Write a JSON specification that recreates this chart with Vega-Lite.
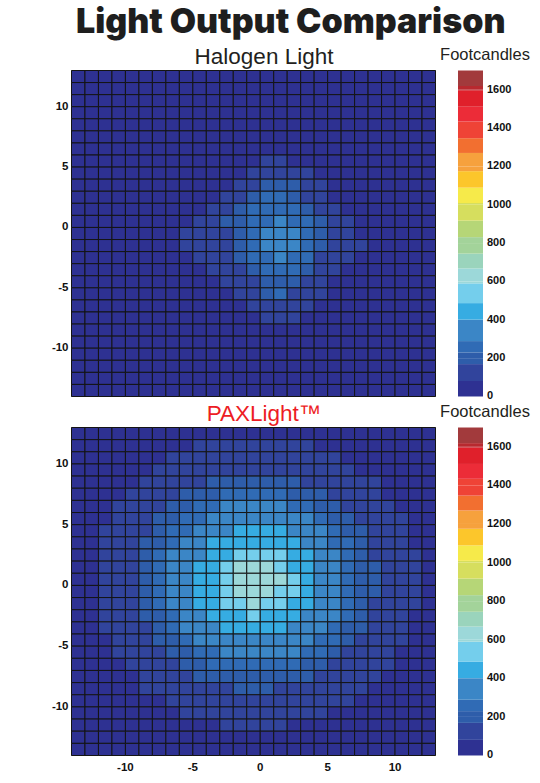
{
"$schema":"https://vega.github.io/schema/vega-lite/v6.json",
"background":"white",
"padding":{"left":50,"top":6,"right":0,"bottom":0},
"title":{"text":"Light Output Comparison","font":"Inter","fontWeight":900,"fontSize":34,"color":"#1E1E1E","anchor":"middle","offset":5},
"spacing":31,
"bounds":"flush",
"resolve":{"scale":{"color":"independent"}},
"config":{"view":{"stroke":"#888","strokeWidth":1}},
"datasets":{
"halogen":[
{"x":-14,"y":12,"v":35},{"x":-13,"y":12,"v":35},{"x":-12,"y":12,"v":35},{"x":-11,"y":12,"v":35},{"x":-10,"y":12,"v":35},{"x":-9,"y":12,"v":35},{"x":-8,"y":12,"v":35},{"x":-7,"y":12,"v":35},{"x":-6,"y":12,"v":35},{"x":-5,"y":12,"v":35},{"x":-4,"y":12,"v":35},{"x":-3,"y":12,"v":35},{"x":-2,"y":12,"v":35},{"x":-1,"y":12,"v":35},{"x":0,"y":12,"v":35},{"x":1,"y":12,"v":35},{"x":2,"y":12,"v":35},{"x":3,"y":12,"v":35},{"x":4,"y":12,"v":35},{"x":5,"y":12,"v":35},{"x":6,"y":12,"v":35},{"x":7,"y":12,"v":35},{"x":8,"y":12,"v":35},{"x":9,"y":12,"v":35},{"x":10,"y":12,"v":35},{"x":11,"y":12,"v":35},{"x":12,"y":12,"v":35},
{"x":-14,"y":11,"v":35},{"x":-13,"y":11,"v":35},{"x":-12,"y":11,"v":35},{"x":-11,"y":11,"v":35},{"x":-10,"y":11,"v":35},{"x":-9,"y":11,"v":35},{"x":-8,"y":11,"v":35},{"x":-7,"y":11,"v":35},{"x":-6,"y":11,"v":35},{"x":-5,"y":11,"v":35},{"x":-4,"y":11,"v":35},{"x":-3,"y":11,"v":35},{"x":-2,"y":11,"v":35},{"x":-1,"y":11,"v":35},{"x":0,"y":11,"v":35},{"x":1,"y":11,"v":35},{"x":2,"y":11,"v":35},{"x":3,"y":11,"v":35},{"x":4,"y":11,"v":35},{"x":5,"y":11,"v":35},{"x":6,"y":11,"v":35},{"x":7,"y":11,"v":35},{"x":8,"y":11,"v":35},{"x":9,"y":11,"v":35},{"x":10,"y":11,"v":35},{"x":11,"y":11,"v":35},{"x":12,"y":11,"v":35},
{"x":-14,"y":10,"v":35},{"x":-13,"y":10,"v":35},{"x":-12,"y":10,"v":35},{"x":-11,"y":10,"v":35},{"x":-10,"y":10,"v":35},{"x":-9,"y":10,"v":35},{"x":-8,"y":10,"v":35},{"x":-7,"y":10,"v":35},{"x":-6,"y":10,"v":35},{"x":-5,"y":10,"v":35},{"x":-4,"y":10,"v":35},{"x":-3,"y":10,"v":35},{"x":-2,"y":10,"v":35},{"x":-1,"y":10,"v":35},{"x":0,"y":10,"v":35},{"x":1,"y":10,"v":35},{"x":2,"y":10,"v":35},{"x":3,"y":10,"v":35},{"x":4,"y":10,"v":35},{"x":5,"y":10,"v":35},{"x":6,"y":10,"v":35},{"x":7,"y":10,"v":35},{"x":8,"y":10,"v":35},{"x":9,"y":10,"v":35},{"x":10,"y":10,"v":35},{"x":11,"y":10,"v":35},{"x":12,"y":10,"v":35},
{"x":-14,"y":9,"v":35},{"x":-13,"y":9,"v":35},{"x":-12,"y":9,"v":35},{"x":-11,"y":9,"v":35},{"x":-10,"y":9,"v":35},{"x":-9,"y":9,"v":35},{"x":-8,"y":9,"v":35},{"x":-7,"y":9,"v":35},{"x":-6,"y":9,"v":35},{"x":-5,"y":9,"v":35},{"x":-4,"y":9,"v":35},{"x":-3,"y":9,"v":35},{"x":-2,"y":9,"v":35},{"x":-1,"y":9,"v":35},{"x":0,"y":9,"v":35},{"x":1,"y":9,"v":35},{"x":2,"y":9,"v":35},{"x":3,"y":9,"v":35},{"x":4,"y":9,"v":35},{"x":5,"y":9,"v":35},{"x":6,"y":9,"v":35},{"x":7,"y":9,"v":35},{"x":8,"y":9,"v":35},{"x":9,"y":9,"v":35},{"x":10,"y":9,"v":35},{"x":11,"y":9,"v":35},{"x":12,"y":9,"v":35},
{"x":-14,"y":8,"v":35},{"x":-13,"y":8,"v":35},{"x":-12,"y":8,"v":35},{"x":-11,"y":8,"v":35},{"x":-10,"y":8,"v":35},{"x":-9,"y":8,"v":35},{"x":-8,"y":8,"v":50},{"x":-7,"y":8,"v":50},{"x":-6,"y":8,"v":50},{"x":-5,"y":8,"v":50},{"x":-4,"y":8,"v":50},{"x":-3,"y":8,"v":50},{"x":-2,"y":8,"v":50},{"x":-1,"y":8,"v":50},{"x":0,"y":8,"v":50},{"x":1,"y":8,"v":50},{"x":2,"y":8,"v":50},{"x":3,"y":8,"v":50},{"x":4,"y":8,"v":50},{"x":5,"y":8,"v":50},{"x":6,"y":8,"v":50},{"x":7,"y":8,"v":50},{"x":8,"y":8,"v":50},{"x":9,"y":8,"v":35},{"x":10,"y":8,"v":35},{"x":11,"y":8,"v":35},{"x":12,"y":8,"v":35},
{"x":-14,"y":7,"v":35},{"x":-13,"y":7,"v":35},{"x":-12,"y":7,"v":35},{"x":-11,"y":7,"v":35},{"x":-10,"y":7,"v":35},{"x":-9,"y":7,"v":35},{"x":-8,"y":7,"v":50},{"x":-7,"y":7,"v":50},{"x":-6,"y":7,"v":50},{"x":-5,"y":7,"v":50},{"x":-4,"y":7,"v":50},{"x":-3,"y":7,"v":50},{"x":-2,"y":7,"v":50},{"x":-1,"y":7,"v":50},{"x":0,"y":7,"v":50},{"x":1,"y":7,"v":50},{"x":2,"y":7,"v":50},{"x":3,"y":7,"v":50},{"x":4,"y":7,"v":50},{"x":5,"y":7,"v":50},{"x":6,"y":7,"v":50},{"x":7,"y":7,"v":50},{"x":8,"y":7,"v":50},{"x":9,"y":7,"v":35},{"x":10,"y":7,"v":35},{"x":11,"y":7,"v":35},{"x":12,"y":7,"v":35},
{"x":-14,"y":6,"v":35},{"x":-13,"y":6,"v":35},{"x":-12,"y":6,"v":35},{"x":-11,"y":6,"v":35},{"x":-10,"y":6,"v":35},{"x":-9,"y":6,"v":35},{"x":-8,"y":6,"v":50},{"x":-7,"y":6,"v":50},{"x":-6,"y":6,"v":50},{"x":-5,"y":6,"v":50},{"x":-4,"y":6,"v":50},{"x":-3,"y":6,"v":50},{"x":-2,"y":6,"v":50},{"x":-1,"y":6,"v":50},{"x":0,"y":6,"v":50},{"x":1,"y":6,"v":50},{"x":2,"y":6,"v":50},{"x":3,"y":6,"v":50},{"x":4,"y":6,"v":50},{"x":5,"y":6,"v":50},{"x":6,"y":6,"v":50},{"x":7,"y":6,"v":50},{"x":8,"y":6,"v":50},{"x":9,"y":6,"v":35},{"x":10,"y":6,"v":35},{"x":11,"y":6,"v":35},{"x":12,"y":6,"v":35},
{"x":-14,"y":5,"v":35},{"x":-13,"y":5,"v":35},{"x":-12,"y":5,"v":35},{"x":-11,"y":5,"v":35},{"x":-10,"y":5,"v":35},{"x":-9,"y":5,"v":35},{"x":-8,"y":5,"v":50},{"x":-7,"y":5,"v":50},{"x":-6,"y":5,"v":50},{"x":-5,"y":5,"v":50},{"x":-4,"y":5,"v":50},{"x":-3,"y":5,"v":50},{"x":-2,"y":5,"v":50},{"x":-1,"y":5,"v":50},{"x":0,"y":5,"v":100},{"x":1,"y":5,"v":100},{"x":2,"y":5,"v":50},{"x":3,"y":5,"v":50},{"x":4,"y":5,"v":50},{"x":5,"y":5,"v":50},{"x":6,"y":5,"v":50},{"x":7,"y":5,"v":50},{"x":8,"y":5,"v":50},{"x":9,"y":5,"v":35},{"x":10,"y":5,"v":35},{"x":11,"y":5,"v":35},{"x":12,"y":5,"v":35},
{"x":-14,"y":4,"v":35},{"x":-13,"y":4,"v":35},{"x":-12,"y":4,"v":35},{"x":-11,"y":4,"v":35},{"x":-10,"y":4,"v":35},{"x":-9,"y":4,"v":35},{"x":-8,"y":4,"v":50},{"x":-7,"y":4,"v":50},{"x":-6,"y":4,"v":50},{"x":-5,"y":4,"v":50},{"x":-4,"y":4,"v":50},{"x":-3,"y":4,"v":50},{"x":-2,"y":4,"v":50},{"x":-1,"y":4,"v":95},{"x":0,"y":4,"v":115},{"x":1,"y":4,"v":120},{"x":2,"y":4,"v":110},{"x":3,"y":4,"v":90},{"x":4,"y":4,"v":50},{"x":5,"y":4,"v":50},{"x":6,"y":4,"v":50},{"x":7,"y":4,"v":50},{"x":8,"y":4,"v":50},{"x":9,"y":4,"v":35},{"x":10,"y":4,"v":35},{"x":11,"y":4,"v":35},{"x":12,"y":4,"v":35},
{"x":-14,"y":3,"v":35},{"x":-13,"y":3,"v":35},{"x":-12,"y":3,"v":35},{"x":-11,"y":3,"v":35},{"x":-10,"y":3,"v":35},{"x":-9,"y":3,"v":35},{"x":-8,"y":3,"v":50},{"x":-7,"y":3,"v":50},{"x":-6,"y":3,"v":50},{"x":-5,"y":3,"v":50},{"x":-4,"y":3,"v":50},{"x":-3,"y":3,"v":50},{"x":-2,"y":3,"v":95},{"x":-1,"y":3,"v":140},{"x":0,"y":3,"v":180},{"x":1,"y":3,"v":195},{"x":2,"y":3,"v":180},{"x":3,"y":3,"v":140},{"x":4,"y":3,"v":95},{"x":5,"y":3,"v":50},{"x":6,"y":3,"v":50},{"x":7,"y":3,"v":50},{"x":8,"y":3,"v":50},{"x":9,"y":3,"v":35},{"x":10,"y":3,"v":35},{"x":11,"y":3,"v":35},{"x":12,"y":3,"v":35},
{"x":-14,"y":2,"v":35},{"x":-13,"y":2,"v":35},{"x":-12,"y":2,"v":35},{"x":-11,"y":2,"v":35},{"x":-10,"y":2,"v":35},{"x":-9,"y":2,"v":35},{"x":-8,"y":2,"v":50},{"x":-7,"y":2,"v":50},{"x":-6,"y":2,"v":50},{"x":-5,"y":2,"v":50},{"x":-4,"y":2,"v":50},{"x":-3,"y":2,"v":90},{"x":-2,"y":2,"v":125},{"x":-1,"y":2,"v":200},{"x":0,"y":2,"v":240},{"x":1,"y":2,"v":245},{"x":2,"y":2,"v":205},{"x":3,"y":2,"v":150},{"x":4,"y":2,"v":100},{"x":5,"y":2,"v":50},{"x":6,"y":2,"v":50},{"x":7,"y":2,"v":50},{"x":8,"y":2,"v":50},{"x":9,"y":2,"v":35},{"x":10,"y":2,"v":35},{"x":11,"y":2,"v":35},{"x":12,"y":2,"v":35},
{"x":-14,"y":1,"v":35},{"x":-13,"y":1,"v":35},{"x":-12,"y":1,"v":35},{"x":-11,"y":1,"v":35},{"x":-10,"y":1,"v":35},{"x":-9,"y":1,"v":35},{"x":-8,"y":1,"v":50},{"x":-7,"y":1,"v":50},{"x":-6,"y":1,"v":50},{"x":-5,"y":1,"v":50},{"x":-4,"y":1,"v":90},{"x":-3,"y":1,"v":130},{"x":-2,"y":1,"v":180},{"x":-1,"y":1,"v":240},{"x":0,"y":1,"v":255},{"x":1,"y":1,"v":260},{"x":2,"y":1,"v":250},{"x":3,"y":1,"v":200},{"x":4,"y":1,"v":140},{"x":5,"y":1,"v":95},{"x":6,"y":1,"v":50},{"x":7,"y":1,"v":50},{"x":8,"y":1,"v":50},{"x":9,"y":1,"v":35},{"x":10,"y":1,"v":35},{"x":11,"y":1,"v":35},{"x":12,"y":1,"v":35},
{"x":-14,"y":0,"v":35},{"x":-13,"y":0,"v":35},{"x":-12,"y":0,"v":35},{"x":-11,"y":0,"v":35},{"x":-10,"y":0,"v":35},{"x":-9,"y":0,"v":35},{"x":-8,"y":0,"v":50},{"x":-7,"y":0,"v":50},{"x":-6,"y":0,"v":50},{"x":-5,"y":0,"v":90},{"x":-4,"y":0,"v":130},{"x":-3,"y":0,"v":175},{"x":-2,"y":0,"v":205},{"x":-1,"y":0,"v":245},{"x":0,"y":0,"v":270},{"x":1,"y":0,"v":330},{"x":2,"y":0,"v":275},{"x":3,"y":0,"v":240},{"x":4,"y":0,"v":185},{"x":5,"y":0,"v":140},{"x":6,"y":0,"v":95},{"x":7,"y":0,"v":50},{"x":8,"y":0,"v":50},{"x":9,"y":0,"v":35},{"x":10,"y":0,"v":35},{"x":11,"y":0,"v":35},{"x":12,"y":0,"v":35},
{"x":-14,"y":-1,"v":35},{"x":-13,"y":-1,"v":35},{"x":-12,"y":-1,"v":35},{"x":-11,"y":-1,"v":35},{"x":-10,"y":-1,"v":35},{"x":-9,"y":-1,"v":35},{"x":-8,"y":-1,"v":50},{"x":-7,"y":-1,"v":50},{"x":-6,"y":-1,"v":85},{"x":-5,"y":-1,"v":105},{"x":-4,"y":-1,"v":130},{"x":-3,"y":-1,"v":155},{"x":-2,"y":-1,"v":200},{"x":-1,"y":-1,"v":260},{"x":0,"y":-1,"v":340},{"x":1,"y":-1,"v":370},{"x":2,"y":-1,"v":300},{"x":3,"y":-1,"v":250},{"x":4,"y":-1,"v":180},{"x":5,"y":-1,"v":140},{"x":6,"y":-1,"v":100},{"x":7,"y":-1,"v":50},{"x":8,"y":-1,"v":50},{"x":9,"y":-1,"v":35},{"x":10,"y":-1,"v":35},{"x":11,"y":-1,"v":35},{"x":12,"y":-1,"v":35},
{"x":-14,"y":-2,"v":35},{"x":-13,"y":-2,"v":35},{"x":-12,"y":-2,"v":35},{"x":-11,"y":-2,"v":35},{"x":-10,"y":-2,"v":35},{"x":-9,"y":-2,"v":35},{"x":-8,"y":-2,"v":50},{"x":-7,"y":-2,"v":50},{"x":-6,"y":-2,"v":90},{"x":-5,"y":-2,"v":110},{"x":-4,"y":-2,"v":135},{"x":-3,"y":-2,"v":160},{"x":-2,"y":-2,"v":205},{"x":-1,"y":-2,"v":275},{"x":0,"y":-2,"v":350},{"x":1,"y":-2,"v":380},{"x":2,"y":-2,"v":340},{"x":3,"y":-2,"v":260},{"x":4,"y":-2,"v":210},{"x":5,"y":-2,"v":150},{"x":6,"y":-2,"v":120},{"x":7,"y":-2,"v":90},{"x":8,"y":-2,"v":50},{"x":9,"y":-2,"v":35},{"x":10,"y":-2,"v":35},{"x":11,"y":-2,"v":35},{"x":12,"y":-2,"v":35},
{"x":-14,"y":-3,"v":35},{"x":-13,"y":-3,"v":35},{"x":-12,"y":-3,"v":35},{"x":-11,"y":-3,"v":35},{"x":-10,"y":-3,"v":35},{"x":-9,"y":-3,"v":35},{"x":-8,"y":-3,"v":50},{"x":-7,"y":-3,"v":50},{"x":-6,"y":-3,"v":50},{"x":-5,"y":-3,"v":95},{"x":-4,"y":-3,"v":120},{"x":-3,"y":-3,"v":150},{"x":-2,"y":-3,"v":185},{"x":-1,"y":-3,"v":250},{"x":0,"y":-3,"v":285},{"x":1,"y":-3,"v":330},{"x":2,"y":-3,"v":285},{"x":3,"y":-3,"v":240},{"x":4,"y":-3,"v":160},{"x":5,"y":-3,"v":130},{"x":6,"y":-3,"v":95},{"x":7,"y":-3,"v":50},{"x":8,"y":-3,"v":50},{"x":9,"y":-3,"v":35},{"x":10,"y":-3,"v":35},{"x":11,"y":-3,"v":35},{"x":12,"y":-3,"v":35},
{"x":-14,"y":-4,"v":35},{"x":-13,"y":-4,"v":35},{"x":-12,"y":-4,"v":35},{"x":-11,"y":-4,"v":35},{"x":-10,"y":-4,"v":35},{"x":-9,"y":-4,"v":35},{"x":-8,"y":-4,"v":50},{"x":-7,"y":-4,"v":50},{"x":-6,"y":-4,"v":50},{"x":-5,"y":-4,"v":50},{"x":-4,"y":-4,"v":95},{"x":-3,"y":-4,"v":120},{"x":-2,"y":-4,"v":150},{"x":-1,"y":-4,"v":190},{"x":0,"y":-4,"v":250},{"x":1,"y":-4,"v":280},{"x":2,"y":-4,"v":245},{"x":3,"y":-4,"v":175},{"x":4,"y":-4,"v":140},{"x":5,"y":-4,"v":100},{"x":6,"y":-4,"v":50},{"x":7,"y":-4,"v":50},{"x":8,"y":-4,"v":50},{"x":9,"y":-4,"v":35},{"x":10,"y":-4,"v":35},{"x":11,"y":-4,"v":35},{"x":12,"y":-4,"v":35},
{"x":-14,"y":-5,"v":35},{"x":-13,"y":-5,"v":35},{"x":-12,"y":-5,"v":35},{"x":-11,"y":-5,"v":35},{"x":-10,"y":-5,"v":35},{"x":-9,"y":-5,"v":35},{"x":-8,"y":-5,"v":50},{"x":-7,"y":-5,"v":50},{"x":-6,"y":-5,"v":50},{"x":-5,"y":-5,"v":50},{"x":-4,"y":-5,"v":50},{"x":-3,"y":-5,"v":100},{"x":-2,"y":-5,"v":125},{"x":-1,"y":-5,"v":155},{"x":0,"y":-5,"v":205},{"x":1,"y":-5,"v":215},{"x":2,"y":-5,"v":185},{"x":3,"y":-5,"v":150},{"x":4,"y":-5,"v":110},{"x":5,"y":-5,"v":50},{"x":6,"y":-5,"v":50},{"x":7,"y":-5,"v":50},{"x":8,"y":-5,"v":50},{"x":9,"y":-5,"v":35},{"x":10,"y":-5,"v":35},{"x":11,"y":-5,"v":35},{"x":12,"y":-5,"v":35},
{"x":-14,"y":-6,"v":35},{"x":-13,"y":-6,"v":35},{"x":-12,"y":-6,"v":35},{"x":-11,"y":-6,"v":35},{"x":-10,"y":-6,"v":35},{"x":-9,"y":-6,"v":35},{"x":-8,"y":-6,"v":50},{"x":-7,"y":-6,"v":50},{"x":-6,"y":-6,"v":50},{"x":-5,"y":-6,"v":50},{"x":-4,"y":-6,"v":50},{"x":-3,"y":-6,"v":50},{"x":-2,"y":-6,"v":105},{"x":-1,"y":-6,"v":150},{"x":0,"y":-6,"v":175},{"x":1,"y":-6,"v":240},{"x":2,"y":-6,"v":150},{"x":3,"y":-6,"v":120},{"x":4,"y":-6,"v":90},{"x":5,"y":-6,"v":50},{"x":6,"y":-6,"v":50},{"x":7,"y":-6,"v":50},{"x":8,"y":-6,"v":50},{"x":9,"y":-6,"v":35},{"x":10,"y":-6,"v":35},{"x":11,"y":-6,"v":35},{"x":12,"y":-6,"v":35},
{"x":-14,"y":-7,"v":35},{"x":-13,"y":-7,"v":35},{"x":-12,"y":-7,"v":35},{"x":-11,"y":-7,"v":35},{"x":-10,"y":-7,"v":35},{"x":-9,"y":-7,"v":35},{"x":-8,"y":-7,"v":50},{"x":-7,"y":-7,"v":50},{"x":-6,"y":-7,"v":50},{"x":-5,"y":-7,"v":50},{"x":-4,"y":-7,"v":50},{"x":-3,"y":-7,"v":50},{"x":-2,"y":-7,"v":50},{"x":-1,"y":-7,"v":110},{"x":0,"y":-7,"v":140},{"x":1,"y":-7,"v":155},{"x":2,"y":-7,"v":140},{"x":3,"y":-7,"v":100},{"x":4,"y":-7,"v":50},{"x":5,"y":-7,"v":50},{"x":6,"y":-7,"v":50},{"x":7,"y":-7,"v":50},{"x":8,"y":-7,"v":50},{"x":9,"y":-7,"v":35},{"x":10,"y":-7,"v":35},{"x":11,"y":-7,"v":35},{"x":12,"y":-7,"v":35},
{"x":-14,"y":-8,"v":35},{"x":-13,"y":-8,"v":35},{"x":-12,"y":-8,"v":35},{"x":-11,"y":-8,"v":35},{"x":-10,"y":-8,"v":35},{"x":-9,"y":-8,"v":35},{"x":-8,"y":-8,"v":50},{"x":-7,"y":-8,"v":50},{"x":-6,"y":-8,"v":50},{"x":-5,"y":-8,"v":50},{"x":-4,"y":-8,"v":50},{"x":-3,"y":-8,"v":50},{"x":-2,"y":-8,"v":50},{"x":-1,"y":-8,"v":50},{"x":0,"y":-8,"v":100},{"x":1,"y":-8,"v":110},{"x":2,"y":-8,"v":95},{"x":3,"y":-8,"v":50},{"x":4,"y":-8,"v":50},{"x":5,"y":-8,"v":50},{"x":6,"y":-8,"v":50},{"x":7,"y":-8,"v":50},{"x":8,"y":-8,"v":50},{"x":9,"y":-8,"v":35},{"x":10,"y":-8,"v":35},{"x":11,"y":-8,"v":35},{"x":12,"y":-8,"v":35},
{"x":-14,"y":-9,"v":35},{"x":-13,"y":-9,"v":35},{"x":-12,"y":-9,"v":35},{"x":-11,"y":-9,"v":35},{"x":-10,"y":-9,"v":35},{"x":-9,"y":-9,"v":35},{"x":-8,"y":-9,"v":50},{"x":-7,"y":-9,"v":50},{"x":-6,"y":-9,"v":50},{"x":-5,"y":-9,"v":50},{"x":-4,"y":-9,"v":50},{"x":-3,"y":-9,"v":50},{"x":-2,"y":-9,"v":50},{"x":-1,"y":-9,"v":50},{"x":0,"y":-9,"v":50},{"x":1,"y":-9,"v":50},{"x":2,"y":-9,"v":50},{"x":3,"y":-9,"v":50},{"x":4,"y":-9,"v":50},{"x":5,"y":-9,"v":50},{"x":6,"y":-9,"v":50},{"x":7,"y":-9,"v":50},{"x":8,"y":-9,"v":50},{"x":9,"y":-9,"v":35},{"x":10,"y":-9,"v":35},{"x":11,"y":-9,"v":35},{"x":12,"y":-9,"v":35},
{"x":-14,"y":-10,"v":35},{"x":-13,"y":-10,"v":35},{"x":-12,"y":-10,"v":35},{"x":-11,"y":-10,"v":35},{"x":-10,"y":-10,"v":35},{"x":-9,"y":-10,"v":35},{"x":-8,"y":-10,"v":50},{"x":-7,"y":-10,"v":50},{"x":-6,"y":-10,"v":50},{"x":-5,"y":-10,"v":50},{"x":-4,"y":-10,"v":50},{"x":-3,"y":-10,"v":50},{"x":-2,"y":-10,"v":50},{"x":-1,"y":-10,"v":50},{"x":0,"y":-10,"v":50},{"x":1,"y":-10,"v":50},{"x":2,"y":-10,"v":50},{"x":3,"y":-10,"v":50},{"x":4,"y":-10,"v":50},{"x":5,"y":-10,"v":50},{"x":6,"y":-10,"v":50},{"x":7,"y":-10,"v":50},{"x":8,"y":-10,"v":50},{"x":9,"y":-10,"v":35},{"x":10,"y":-10,"v":35},{"x":11,"y":-10,"v":35},{"x":12,"y":-10,"v":35},
{"x":-14,"y":-11,"v":35},{"x":-13,"y":-11,"v":35},{"x":-12,"y":-11,"v":35},{"x":-11,"y":-11,"v":35},{"x":-10,"y":-11,"v":35},{"x":-9,"y":-11,"v":35},{"x":-8,"y":-11,"v":35},{"x":-7,"y":-11,"v":35},{"x":-6,"y":-11,"v":35},{"x":-5,"y":-11,"v":35},{"x":-4,"y":-11,"v":35},{"x":-3,"y":-11,"v":35},{"x":-2,"y":-11,"v":35},{"x":-1,"y":-11,"v":35},{"x":0,"y":-11,"v":35},{"x":1,"y":-11,"v":35},{"x":2,"y":-11,"v":35},{"x":3,"y":-11,"v":35},{"x":4,"y":-11,"v":35},{"x":5,"y":-11,"v":35},{"x":6,"y":-11,"v":35},{"x":7,"y":-11,"v":35},{"x":8,"y":-11,"v":35},{"x":9,"y":-11,"v":35},{"x":10,"y":-11,"v":35},{"x":11,"y":-11,"v":35},{"x":12,"y":-11,"v":35},
{"x":-14,"y":-12,"v":35},{"x":-13,"y":-12,"v":35},{"x":-12,"y":-12,"v":35},{"x":-11,"y":-12,"v":35},{"x":-10,"y":-12,"v":35},{"x":-9,"y":-12,"v":35},{"x":-8,"y":-12,"v":35},{"x":-7,"y":-12,"v":35},{"x":-6,"y":-12,"v":35},{"x":-5,"y":-12,"v":35},{"x":-4,"y":-12,"v":35},{"x":-3,"y":-12,"v":35},{"x":-2,"y":-12,"v":35},{"x":-1,"y":-12,"v":35},{"x":0,"y":-12,"v":35},{"x":1,"y":-12,"v":35},{"x":2,"y":-12,"v":35},{"x":3,"y":-12,"v":35},{"x":4,"y":-12,"v":35},{"x":5,"y":-12,"v":35},{"x":6,"y":-12,"v":35},{"x":7,"y":-12,"v":35},{"x":8,"y":-12,"v":35},{"x":9,"y":-12,"v":35},{"x":10,"y":-12,"v":35},{"x":11,"y":-12,"v":35},{"x":12,"y":-12,"v":35},
{"x":-14,"y":-13,"v":35},{"x":-13,"y":-13,"v":35},{"x":-12,"y":-13,"v":35},{"x":-11,"y":-13,"v":35},{"x":-10,"y":-13,"v":35},{"x":-9,"y":-13,"v":35},{"x":-8,"y":-13,"v":35},{"x":-7,"y":-13,"v":35},{"x":-6,"y":-13,"v":35},{"x":-5,"y":-13,"v":35},{"x":-4,"y":-13,"v":35},{"x":-3,"y":-13,"v":35},{"x":-2,"y":-13,"v":35},{"x":-1,"y":-13,"v":35},{"x":0,"y":-13,"v":35},{"x":1,"y":-13,"v":35},{"x":2,"y":-13,"v":35},{"x":3,"y":-13,"v":35},{"x":4,"y":-13,"v":35},{"x":5,"y":-13,"v":35},{"x":6,"y":-13,"v":35},{"x":7,"y":-13,"v":35},{"x":8,"y":-13,"v":35},{"x":9,"y":-13,"v":35},{"x":10,"y":-13,"v":35},{"x":11,"y":-13,"v":35},{"x":12,"y":-13,"v":35},
{"x":-14,"y":-14,"v":35},{"x":-13,"y":-14,"v":35},{"x":-12,"y":-14,"v":35},{"x":-11,"y":-14,"v":35},{"x":-10,"y":-14,"v":35},{"x":-9,"y":-14,"v":35},{"x":-8,"y":-14,"v":35},{"x":-7,"y":-14,"v":35},{"x":-6,"y":-14,"v":35},{"x":-5,"y":-14,"v":35},{"x":-4,"y":-14,"v":35},{"x":-3,"y":-14,"v":35},{"x":-2,"y":-14,"v":35},{"x":-1,"y":-14,"v":35},{"x":0,"y":-14,"v":35},{"x":1,"y":-14,"v":35},{"x":2,"y":-14,"v":35},{"x":3,"y":-14,"v":35},{"x":4,"y":-14,"v":35},{"x":5,"y":-14,"v":35},{"x":6,"y":-14,"v":35},{"x":7,"y":-14,"v":35},{"x":8,"y":-14,"v":35},{"x":9,"y":-14,"v":35},{"x":10,"y":-14,"v":35},{"x":11,"y":-14,"v":35},{"x":12,"y":-14,"v":35}
],
"pax":[
{"x":-14,"y":12,"v":35},{"x":-13,"y":12,"v":39},{"x":-12,"y":12,"v":43},{"x":-11,"y":12,"v":46},{"x":-10,"y":12,"v":50},{"x":-9,"y":12,"v":53},{"x":-8,"y":12,"v":56},{"x":-7,"y":12,"v":61},{"x":-6,"y":12,"v":66},{"x":-5,"y":12,"v":70},{"x":-4,"y":12,"v":74},{"x":-3,"y":12,"v":76},{"x":-2,"y":12,"v":78},{"x":-1,"y":12,"v":79},{"x":0,"y":12,"v":78},{"x":1,"y":12,"v":77},{"x":2,"y":12,"v":75},{"x":3,"y":12,"v":72},{"x":4,"y":12,"v":68},{"x":5,"y":12,"v":63},{"x":6,"y":12,"v":57},{"x":7,"y":12,"v":54},{"x":8,"y":12,"v":51},{"x":9,"y":12,"v":47},{"x":10,"y":12,"v":43},{"x":11,"y":12,"v":40},{"x":12,"y":12,"v":37},
{"x":-14,"y":11,"v":38},{"x":-13,"y":11,"v":43},{"x":-12,"y":11,"v":46},{"x":-11,"y":11,"v":50},{"x":-10,"y":11,"v":54},{"x":-9,"y":11,"v":58},{"x":-8,"y":11,"v":65},{"x":-7,"y":11,"v":71},{"x":-6,"y":11,"v":77},{"x":-5,"y":11,"v":82},{"x":-4,"y":11,"v":91},{"x":-3,"y":11,"v":97},{"x":-2,"y":11,"v":102},{"x":-1,"y":11,"v":103},{"x":0,"y":11,"v":103},{"x":1,"y":11,"v":99},{"x":2,"y":11,"v":94},{"x":3,"y":11,"v":86},{"x":4,"y":11,"v":79},{"x":5,"y":11,"v":74},{"x":6,"y":11,"v":68},{"x":7,"y":11,"v":61},{"x":8,"y":11,"v":56},{"x":9,"y":11,"v":52},{"x":10,"y":11,"v":48},{"x":11,"y":11,"v":44},{"x":12,"y":11,"v":40},
{"x":-14,"y":10,"v":41},{"x":-13,"y":10,"v":46},{"x":-12,"y":10,"v":50},{"x":-11,"y":10,"v":54},{"x":-10,"y":10,"v":60},{"x":-9,"y":10,"v":68},{"x":-8,"y":10,"v":75},{"x":-7,"y":10,"v":83},{"x":-6,"y":10,"v":96},{"x":-5,"y":10,"v":108},{"x":-4,"y":10,"v":118},{"x":-3,"y":10,"v":126},{"x":-2,"y":10,"v":130},{"x":-1,"y":10,"v":132},{"x":0,"y":10,"v":131},{"x":1,"y":10,"v":128},{"x":2,"y":10,"v":122},{"x":3,"y":10,"v":113},{"x":4,"y":10,"v":102},{"x":5,"y":10,"v":89},{"x":6,"y":10,"v":78},{"x":7,"y":10,"v":71},{"x":8,"y":10,"v":63},{"x":9,"y":10,"v":56},{"x":10,"y":10,"v":52},{"x":11,"y":10,"v":48},{"x":12,"y":10,"v":43},
{"x":-14,"y":9,"v":45},{"x":-13,"y":9,"v":50},{"x":-12,"y":9,"v":54},{"x":-11,"y":9,"v":60},{"x":-10,"y":9,"v":69},{"x":-9,"y":9,"v":77},{"x":-8,"y":9,"v":89},{"x":-7,"y":9,"v":107},{"x":-6,"y":9,"v":122},{"x":-5,"y":9,"v":135},{"x":-4,"y":9,"v":145},{"x":-3,"y":9,"v":153},{"x":-2,"y":9,"v":159},{"x":-1,"y":9,"v":160},{"x":0,"y":9,"v":159},{"x":1,"y":9,"v":155},{"x":2,"y":9,"v":148},{"x":3,"y":9,"v":140},{"x":4,"y":9,"v":127},{"x":5,"y":9,"v":113},{"x":6,"y":9,"v":97},{"x":7,"y":9,"v":80},{"x":8,"y":9,"v":72},{"x":9,"y":9,"v":64},{"x":10,"y":9,"v":56},{"x":11,"y":9,"v":51},{"x":12,"y":9,"v":46},
{"x":-14,"y":8,"v":48},{"x":-13,"y":8,"v":53},{"x":-12,"y":8,"v":58},{"x":-11,"y":8,"v":68},{"x":-10,"y":8,"v":77},{"x":-9,"y":8,"v":92},{"x":-8,"y":8,"v":112},{"x":-7,"y":8,"v":130},{"x":-6,"y":8,"v":146},{"x":-5,"y":8,"v":160},{"x":-4,"y":8,"v":174},{"x":-3,"y":8,"v":189},{"x":-2,"y":8,"v":198},{"x":-1,"y":8,"v":202},{"x":0,"y":8,"v":201},{"x":1,"y":8,"v":193},{"x":2,"y":8,"v":180},{"x":3,"y":8,"v":165},{"x":4,"y":8,"v":152},{"x":5,"y":8,"v":137},{"x":6,"y":8,"v":120},{"x":7,"y":8,"v":100},{"x":8,"y":8,"v":81},{"x":9,"y":8,"v":72},{"x":10,"y":8,"v":63},{"x":11,"y":8,"v":55},{"x":12,"y":8,"v":50},
{"x":-14,"y":7,"v":51},{"x":-13,"y":7,"v":56},{"x":-12,"y":7,"v":65},{"x":-11,"y":7,"v":75},{"x":-10,"y":7,"v":89},{"x":-9,"y":7,"v":112},{"x":-8,"y":7,"v":132},{"x":-7,"y":7,"v":152},{"x":-6,"y":7,"v":170},{"x":-5,"y":7,"v":197},{"x":-4,"y":7,"v":217},{"x":-3,"y":7,"v":235},{"x":-2,"y":7,"v":248},{"x":-1,"y":7,"v":254},{"x":0,"y":7,"v":251},{"x":1,"y":7,"v":241},{"x":2,"y":7,"v":224},{"x":3,"y":7,"v":205},{"x":4,"y":7,"v":181},{"x":5,"y":7,"v":159},{"x":6,"y":7,"v":141},{"x":7,"y":7,"v":120},{"x":8,"y":7,"v":99},{"x":9,"y":7,"v":79},{"x":10,"y":7,"v":69},{"x":11,"y":7,"v":59},{"x":12,"y":7,"v":53},
{"x":-14,"y":6,"v":54},{"x":-13,"y":6,"v":61},{"x":-12,"y":6,"v":71},{"x":-11,"y":6,"v":83},{"x":-10,"y":6,"v":107},{"x":-9,"y":6,"v":130},{"x":-8,"y":6,"v":152},{"x":-7,"y":6,"v":176},{"x":-6,"y":6,"v":207},{"x":-5,"y":6,"v":237},{"x":-4,"y":6,"v":267},{"x":-3,"y":6,"v":291},{"x":-2,"y":6,"v":305},{"x":-1,"y":6,"v":311},{"x":0,"y":6,"v":309},{"x":1,"y":6,"v":297},{"x":2,"y":6,"v":277},{"x":3,"y":6,"v":250},{"x":4,"y":6,"v":219},{"x":5,"y":6,"v":189},{"x":6,"y":6,"v":160},{"x":7,"y":6,"v":139},{"x":8,"y":6,"v":116},{"x":9,"y":6,"v":92},{"x":10,"y":6,"v":76},{"x":11,"y":6,"v":65},{"x":12,"y":6,"v":56},
{"x":-14,"y":5,"v":56},{"x":-13,"y":5,"v":66},{"x":-12,"y":5,"v":77},{"x":-11,"y":5,"v":96},{"x":-10,"y":5,"v":122},{"x":-9,"y":5,"v":146},{"x":-8,"y":5,"v":170},{"x":-7,"y":5,"v":207},{"x":-6,"y":5,"v":245},{"x":-5,"y":5,"v":284},{"x":-4,"y":5,"v":317},{"x":-3,"y":5,"v":343},{"x":-2,"y":5,"v":360},{"x":-1,"y":5,"v":367},{"x":0,"y":5,"v":364},{"x":1,"y":5,"v":351},{"x":2,"y":5,"v":329},{"x":3,"y":5,"v":299},{"x":4,"y":5,"v":261},{"x":5,"y":5,"v":222},{"x":6,"y":5,"v":185},{"x":7,"y":5,"v":155},{"x":8,"y":5,"v":132},{"x":9,"y":5,"v":107},{"x":10,"y":5,"v":82},{"x":11,"y":5,"v":70},{"x":12,"y":5,"v":59},
{"x":-14,"y":4,"v":59},{"x":-13,"y":4,"v":70},{"x":-12,"y":4,"v":82},{"x":-11,"y":4,"v":108},{"x":-10,"y":4,"v":135},{"x":-9,"y":4,"v":160},{"x":-8,"y":4,"v":197},{"x":-7,"y":4,"v":237},{"x":-6,"y":4,"v":284},{"x":-5,"y":4,"v":327},{"x":-4,"y":4,"v":363},{"x":-3,"y":4,"v":394},{"x":-2,"y":4,"v":415},{"x":-1,"y":4,"v":423},{"x":0,"y":4,"v":420},{"x":1,"y":4,"v":403},{"x":2,"y":4,"v":376},{"x":3,"y":4,"v":342},{"x":4,"y":4,"v":302},{"x":5,"y":4,"v":256},{"x":6,"y":4,"v":212},{"x":7,"y":4,"v":171},{"x":8,"y":4,"v":145},{"x":9,"y":4,"v":119},{"x":10,"y":4,"v":93},{"x":11,"y":4,"v":75},{"x":12,"y":4,"v":63},
{"x":-14,"y":3,"v":62},{"x":-13,"y":3,"v":74},{"x":-12,"y":3,"v":91},{"x":-11,"y":3,"v":118},{"x":-10,"y":3,"v":145},{"x":-9,"y":3,"v":174},{"x":-8,"y":3,"v":217},{"x":-7,"y":3,"v":267},{"x":-6,"y":3,"v":317},{"x":-5,"y":3,"v":363},{"x":-4,"y":3,"v":405},{"x":-3,"y":3,"v":438},{"x":-2,"y":3,"v":461},{"x":-1,"y":3,"v":472},{"x":0,"y":3,"v":467},{"x":1,"y":3,"v":448},{"x":2,"y":3,"v":419},{"x":3,"y":3,"v":381},{"x":4,"y":3,"v":336},{"x":5,"y":3,"v":288},{"x":6,"y":3,"v":235},{"x":7,"y":3,"v":192},{"x":8,"y":3,"v":156},{"x":9,"y":3,"v":129},{"x":10,"y":3,"v":102},{"x":11,"y":3,"v":78},{"x":12,"y":3,"v":67},
{"x":-14,"y":2,"v":64},{"x":-13,"y":2,"v":76},{"x":-12,"y":2,"v":97},{"x":-11,"y":2,"v":126},{"x":-10,"y":2,"v":154},{"x":-9,"y":2,"v":189},{"x":-8,"y":2,"v":235},{"x":-7,"y":2,"v":291},{"x":-6,"y":2,"v":344},{"x":-5,"y":2,"v":394},{"x":-4,"y":2,"v":438},{"x":-3,"y":2,"v":477},{"x":-2,"y":2,"v":529},{"x":-1,"y":2,"v":559},{"x":0,"y":2,"v":546},{"x":1,"y":2,"v":494},{"x":2,"y":2,"v":454},{"x":3,"y":2,"v":412},{"x":4,"y":2,"v":363},{"x":5,"y":2,"v":311},{"x":6,"y":2,"v":257},{"x":7,"y":2,"v":207},{"x":8,"y":2,"v":164},{"x":9,"y":2,"v":137},{"x":10,"y":2,"v":108},{"x":11,"y":2,"v":81},{"x":12,"y":2,"v":69},
{"x":-14,"y":1,"v":66},{"x":-13,"y":1,"v":78},{"x":-12,"y":1,"v":102},{"x":-11,"y":1,"v":131},{"x":-10,"y":1,"v":159},{"x":-9,"y":1,"v":198},{"x":-8,"y":1,"v":248},{"x":-7,"y":1,"v":305},{"x":-6,"y":1,"v":360},{"x":-5,"y":1,"v":415},{"x":-4,"y":1,"v":461},{"x":-3,"y":1,"v":529},{"x":-2,"y":1,"v":597},{"x":-1,"y":1,"v":611},{"x":0,"y":1,"v":604},{"x":1,"y":1,"v":576},{"x":2,"y":1,"v":480},{"x":3,"y":1,"v":433},{"x":4,"y":1,"v":382},{"x":5,"y":1,"v":327},{"x":6,"y":1,"v":271},{"x":7,"y":1,"v":216},{"x":8,"y":1,"v":170},{"x":9,"y":1,"v":142},{"x":10,"y":1,"v":113},{"x":11,"y":1,"v":85},{"x":12,"y":1,"v":71},
{"x":-14,"y":0,"v":67},{"x":-13,"y":0,"v":79},{"x":-12,"y":0,"v":103},{"x":-11,"y":0,"v":132},{"x":-10,"y":0,"v":160},{"x":-9,"y":0,"v":202},{"x":-8,"y":0,"v":254},{"x":-7,"y":0,"v":311},{"x":-6,"y":0,"v":367},{"x":-5,"y":0,"v":422},{"x":-4,"y":0,"v":472},{"x":-3,"y":0,"v":560},{"x":-2,"y":0,"v":613},{"x":-1,"y":0,"v":641},{"x":0,"y":0,"v":624},{"x":1,"y":0,"v":593},{"x":2,"y":0,"v":498},{"x":3,"y":0,"v":441},{"x":4,"y":0,"v":390},{"x":5,"y":0,"v":334},{"x":6,"y":0,"v":277},{"x":7,"y":0,"v":221},{"x":8,"y":0,"v":174},{"x":9,"y":0,"v":144},{"x":10,"y":0,"v":115},{"x":11,"y":0,"v":87},{"x":12,"y":0,"v":71},
{"x":-14,"y":-1,"v":66},{"x":-13,"y":-1,"v":78},{"x":-12,"y":-1,"v":103},{"x":-11,"y":-1,"v":131},{"x":-10,"y":-1,"v":159},{"x":-9,"y":-1,"v":200},{"x":-8,"y":-1,"v":251},{"x":-7,"y":-1,"v":309},{"x":-6,"y":-1,"v":364},{"x":-5,"y":-1,"v":420},{"x":-4,"y":-1,"v":467},{"x":-3,"y":-1,"v":547},{"x":-2,"y":-1,"v":605},{"x":-1,"y":-1,"v":624},{"x":0,"y":-1,"v":614},{"x":1,"y":-1,"v":585},{"x":2,"y":-1,"v":487},{"x":3,"y":-1,"v":438},{"x":4,"y":-1,"v":388},{"x":5,"y":-1,"v":331},{"x":6,"y":-1,"v":275},{"x":7,"y":-1,"v":219},{"x":8,"y":-1,"v":172},{"x":9,"y":-1,"v":143},{"x":10,"y":-1,"v":114},{"x":11,"y":-1,"v":86},{"x":12,"y":-1,"v":71},
{"x":-14,"y":-2,"v":65},{"x":-13,"y":-2,"v":77},{"x":-12,"y":-2,"v":99},{"x":-11,"y":-2,"v":128},{"x":-10,"y":-2,"v":155},{"x":-9,"y":-2,"v":193},{"x":-8,"y":-2,"v":241},{"x":-7,"y":-2,"v":297},{"x":-6,"y":-2,"v":351},{"x":-5,"y":-2,"v":403},{"x":-4,"y":-2,"v":448},{"x":-3,"y":-2,"v":494},{"x":-2,"y":-2,"v":565},{"x":-1,"y":-2,"v":592},{"x":0,"y":-2,"v":583},{"x":1,"y":-2,"v":525},{"x":2,"y":-2,"v":466},{"x":3,"y":-2,"v":421},{"x":4,"y":-2,"v":372},{"x":5,"y":-2,"v":319},{"x":6,"y":-2,"v":263},{"x":7,"y":-2,"v":211},{"x":8,"y":-2,"v":167},{"x":9,"y":-2,"v":139},{"x":10,"y":-2,"v":110},{"x":11,"y":-2,"v":83},{"x":12,"y":-2,"v":70},
{"x":-14,"y":-3,"v":63},{"x":-13,"y":-3,"v":75},{"x":-12,"y":-3,"v":94},{"x":-11,"y":-3,"v":122},{"x":-10,"y":-3,"v":149},{"x":-9,"y":-3,"v":180},{"x":-8,"y":-3,"v":224},{"x":-7,"y":-3,"v":277},{"x":-6,"y":-3,"v":329},{"x":-5,"y":-3,"v":377},{"x":-4,"y":-3,"v":419},{"x":-3,"y":-3,"v":454},{"x":-2,"y":-3,"v":480},{"x":-1,"y":-3,"v":496},{"x":0,"y":-3,"v":486},{"x":1,"y":-3,"v":466},{"x":2,"y":-3,"v":434},{"x":3,"y":-3,"v":395},{"x":4,"y":-3,"v":348},{"x":5,"y":-3,"v":298},{"x":6,"y":-3,"v":245},{"x":7,"y":-3,"v":198},{"x":8,"y":-3,"v":160},{"x":9,"y":-3,"v":133},{"x":10,"y":-3,"v":105},{"x":11,"y":-3,"v":80},{"x":12,"y":-3,"v":68},
{"x":-14,"y":-4,"v":60},{"x":-13,"y":-4,"v":72},{"x":-12,"y":-4,"v":86},{"x":-11,"y":-4,"v":112},{"x":-10,"y":-4,"v":139},{"x":-9,"y":-4,"v":165},{"x":-8,"y":-4,"v":205},{"x":-7,"y":-4,"v":250},{"x":-6,"y":-4,"v":298},{"x":-5,"y":-4,"v":342},{"x":-4,"y":-4,"v":381},{"x":-3,"y":-4,"v":412},{"x":-2,"y":-4,"v":433},{"x":-1,"y":-4,"v":441},{"x":0,"y":-4,"v":437},{"x":1,"y":-4,"v":421},{"x":2,"y":-4,"v":395},{"x":3,"y":-4,"v":358},{"x":4,"y":-4,"v":316},{"x":5,"y":-4,"v":269},{"x":6,"y":-4,"v":222},{"x":7,"y":-4,"v":180},{"x":8,"y":-4,"v":150},{"x":9,"y":-4,"v":124},{"x":10,"y":-4,"v":96},{"x":11,"y":-4,"v":76},{"x":12,"y":-4,"v":65},
{"x":-14,"y":-5,"v":57},{"x":-13,"y":-5,"v":68},{"x":-12,"y":-5,"v":79},{"x":-11,"y":-5,"v":102},{"x":-10,"y":-5,"v":127},{"x":-9,"y":-5,"v":152},{"x":-8,"y":-5,"v":181},{"x":-7,"y":-5,"v":219},{"x":-6,"y":-5,"v":261},{"x":-5,"y":-5,"v":302},{"x":-4,"y":-5,"v":336},{"x":-3,"y":-5,"v":363},{"x":-2,"y":-5,"v":382},{"x":-1,"y":-5,"v":389},{"x":0,"y":-5,"v":386},{"x":1,"y":-5,"v":372},{"x":2,"y":-5,"v":348},{"x":3,"y":-5,"v":316},{"x":4,"y":-5,"v":278},{"x":5,"y":-5,"v":235},{"x":6,"y":-5,"v":197},{"x":7,"y":-5,"v":162},{"x":8,"y":-5,"v":138},{"x":9,"y":-5,"v":112},{"x":10,"y":-5,"v":86},{"x":11,"y":-5,"v":72},{"x":12,"y":-5,"v":61},
{"x":-14,"y":-6,"v":54},{"x":-13,"y":-6,"v":63},{"x":-12,"y":-6,"v":74},{"x":-11,"y":-6,"v":89},{"x":-10,"y":-6,"v":113},{"x":-9,"y":-6,"v":137},{"x":-8,"y":-6,"v":159},{"x":-7,"y":-6,"v":189},{"x":-6,"y":-6,"v":221},{"x":-5,"y":-6,"v":256},{"x":-4,"y":-6,"v":288},{"x":-3,"y":-6,"v":311},{"x":-2,"y":-6,"v":328},{"x":-1,"y":-6,"v":334},{"x":0,"y":-6,"v":330},{"x":1,"y":-6,"v":319},{"x":2,"y":-6,"v":298},{"x":3,"y":-6,"v":269},{"x":4,"y":-6,"v":235},{"x":5,"y":-6,"v":202},{"x":6,"y":-6,"v":168},{"x":7,"y":-6,"v":146},{"x":8,"y":-6,"v":123},{"x":9,"y":-6,"v":98},{"x":10,"y":-6,"v":78},{"x":11,"y":-6,"v":67},{"x":12,"y":-6,"v":57},
{"x":-14,"y":-7,"v":52},{"x":-13,"y":-7,"v":57},{"x":-12,"y":-7,"v":68},{"x":-11,"y":-7,"v":78},{"x":-10,"y":-7,"v":97},{"x":-9,"y":-7,"v":120},{"x":-8,"y":-7,"v":141},{"x":-7,"y":-7,"v":160},{"x":-6,"y":-7,"v":185},{"x":-5,"y":-7,"v":212},{"x":-4,"y":-7,"v":235},{"x":-3,"y":-7,"v":257},{"x":-2,"y":-7,"v":271},{"x":-1,"y":-7,"v":277},{"x":0,"y":-7,"v":274},{"x":1,"y":-7,"v":263},{"x":2,"y":-7,"v":245},{"x":3,"y":-7,"v":222},{"x":4,"y":-7,"v":196},{"x":5,"y":-7,"v":168},{"x":6,"y":-7,"v":149},{"x":7,"y":-7,"v":128},{"x":8,"y":-7,"v":106},{"x":9,"y":-7,"v":83},{"x":10,"y":-7,"v":72},{"x":11,"y":-7,"v":62},{"x":12,"y":-7,"v":54},
{"x":-14,"y":-8,"v":49},{"x":-13,"y":-8,"v":54},{"x":-12,"y":-8,"v":61},{"x":-11,"y":-8,"v":71},{"x":-10,"y":-8,"v":80},{"x":-9,"y":-8,"v":100},{"x":-8,"y":-8,"v":120},{"x":-7,"y":-8,"v":139},{"x":-6,"y":-8,"v":156},{"x":-5,"y":-8,"v":171},{"x":-4,"y":-8,"v":191},{"x":-3,"y":-8,"v":207},{"x":-2,"y":-8,"v":216},{"x":-1,"y":-8,"v":221},{"x":0,"y":-8,"v":219},{"x":1,"y":-8,"v":211},{"x":2,"y":-8,"v":198},{"x":3,"y":-8,"v":180},{"x":4,"y":-8,"v":162},{"x":5,"y":-8,"v":146},{"x":6,"y":-8,"v":128},{"x":7,"y":-8,"v":108},{"x":8,"y":-8,"v":88},{"x":9,"y":-8,"v":75},{"x":10,"y":-8,"v":65},{"x":11,"y":-8,"v":56},{"x":12,"y":-8,"v":51},
{"x":-14,"y":-9,"v":46},{"x":-13,"y":-9,"v":51},{"x":-12,"y":-9,"v":56},{"x":-11,"y":-9,"v":63},{"x":-10,"y":-9,"v":72},{"x":-9,"y":-9,"v":81},{"x":-8,"y":-9,"v":99},{"x":-7,"y":-9,"v":116},{"x":-6,"y":-9,"v":132},{"x":-5,"y":-9,"v":145},{"x":-4,"y":-9,"v":156},{"x":-3,"y":-9,"v":164},{"x":-2,"y":-9,"v":170},{"x":-1,"y":-9,"v":174},{"x":0,"y":-9,"v":172},{"x":1,"y":-9,"v":167},{"x":2,"y":-9,"v":160},{"x":3,"y":-9,"v":150},{"x":4,"y":-9,"v":137},{"x":5,"y":-9,"v":122},{"x":6,"y":-9,"v":106},{"x":7,"y":-9,"v":88},{"x":8,"y":-9,"v":76},{"x":9,"y":-9,"v":67},{"x":10,"y":-9,"v":58},{"x":11,"y":-9,"v":53},{"x":12,"y":-9,"v":48},
{"x":-14,"y":-10,"v":43},{"x":-13,"y":-10,"v":47},{"x":-12,"y":-10,"v":52},{"x":-11,"y":-10,"v":56},{"x":-10,"y":-10,"v":64},{"x":-9,"y":-10,"v":72},{"x":-8,"y":-10,"v":79},{"x":-7,"y":-10,"v":92},{"x":-6,"y":-10,"v":106},{"x":-5,"y":-10,"v":119},{"x":-4,"y":-10,"v":129},{"x":-3,"y":-10,"v":137},{"x":-2,"y":-10,"v":141},{"x":-1,"y":-10,"v":143},{"x":0,"y":-10,"v":143},{"x":1,"y":-10,"v":139},{"x":2,"y":-10,"v":133},{"x":3,"y":-10,"v":124},{"x":4,"y":-10,"v":112},{"x":5,"y":-10,"v":98},{"x":6,"y":-10,"v":83},{"x":7,"y":-10,"v":75},{"x":8,"y":-10,"v":67},{"x":9,"y":-10,"v":58},{"x":10,"y":-10,"v":54},{"x":11,"y":-10,"v":49},{"x":12,"y":-10,"v":44},
{"x":-14,"y":-11,"v":40},{"x":-13,"y":-11,"v":43},{"x":-12,"y":-11,"v":48},{"x":-11,"y":-11,"v":52},{"x":-10,"y":-11,"v":56},{"x":-9,"y":-11,"v":62},{"x":-8,"y":-11,"v":69},{"x":-7,"y":-11,"v":76},{"x":-6,"y":-11,"v":82},{"x":-5,"y":-11,"v":93},{"x":-4,"y":-11,"v":102},{"x":-3,"y":-11,"v":108},{"x":-2,"y":-11,"v":113},{"x":-1,"y":-11,"v":115},{"x":0,"y":-11,"v":114},{"x":1,"y":-11,"v":110},{"x":2,"y":-11,"v":105},{"x":3,"y":-11,"v":96},{"x":4,"y":-11,"v":86},{"x":5,"y":-11,"v":78},{"x":6,"y":-11,"v":72},{"x":7,"y":-11,"v":65},{"x":8,"y":-11,"v":58},{"x":9,"y":-11,"v":54},{"x":10,"y":-11,"v":50},{"x":11,"y":-11,"v":46},{"x":12,"y":-11,"v":41},
{"x":-14,"y":-12,"v":37},{"x":-13,"y":-12,"v":40},{"x":-12,"y":-12,"v":44},{"x":-11,"y":-12,"v":48},{"x":-10,"y":-12,"v":51},{"x":-9,"y":-12,"v":55},{"x":-8,"y":-12,"v":59},{"x":-7,"y":-12,"v":65},{"x":-6,"y":-12,"v":70},{"x":-5,"y":-12,"v":75},{"x":-4,"y":-12,"v":78},{"x":-3,"y":-12,"v":81},{"x":-2,"y":-12,"v":85},{"x":-1,"y":-12,"v":87},{"x":0,"y":-12,"v":86},{"x":1,"y":-12,"v":83},{"x":2,"y":-12,"v":80},{"x":3,"y":-12,"v":76},{"x":4,"y":-12,"v":72},{"x":5,"y":-12,"v":67},{"x":6,"y":-12,"v":62},{"x":7,"y":-12,"v":56},{"x":8,"y":-12,"v":53},{"x":9,"y":-12,"v":49},{"x":10,"y":-12,"v":45},{"x":11,"y":-12,"v":42},{"x":12,"y":-12,"v":38},
{"x":-14,"y":-13,"v":34},{"x":-13,"y":-13,"v":37},{"x":-12,"y":-13,"v":40},{"x":-11,"y":-13,"v":43},{"x":-10,"y":-13,"v":46},{"x":-9,"y":-13,"v":50},{"x":-8,"y":-13,"v":53},{"x":-7,"y":-13,"v":56},{"x":-6,"y":-13,"v":59},{"x":-5,"y":-13,"v":63},{"x":-4,"y":-13,"v":67},{"x":-3,"y":-13,"v":69},{"x":-2,"y":-13,"v":71},{"x":-1,"y":-13,"v":71},{"x":0,"y":-13,"v":71},{"x":1,"y":-13,"v":70},{"x":2,"y":-13,"v":68},{"x":3,"y":-13,"v":65},{"x":4,"y":-13,"v":61},{"x":5,"y":-13,"v":57},{"x":6,"y":-13,"v":54},{"x":7,"y":-13,"v":51},{"x":8,"y":-13,"v":48},{"x":9,"y":-13,"v":44},{"x":10,"y":-13,"v":41},{"x":11,"y":-13,"v":38},{"x":12,"y":-13,"v":35},
{"x":-14,"y":-14,"v":31},{"x":-13,"y":-14,"v":34},{"x":-12,"y":-14,"v":36},{"x":-11,"y":-14,"v":39},{"x":-10,"y":-14,"v":42},{"x":-9,"y":-14,"v":45},{"x":-8,"y":-14,"v":48},{"x":-7,"y":-14,"v":50},{"x":-6,"y":-14,"v":53},{"x":-5,"y":-14,"v":54},{"x":-4,"y":-14,"v":56},{"x":-3,"y":-14,"v":57},{"x":-2,"y":-14,"v":58},{"x":-1,"y":-14,"v":59},{"x":0,"y":-14,"v":59},{"x":1,"y":-14,"v":58},{"x":2,"y":-14,"v":57},{"x":3,"y":-14,"v":55},{"x":4,"y":-14,"v":53},{"x":5,"y":-14,"v":51},{"x":6,"y":-14,"v":49},{"x":7,"y":-14,"v":46},{"x":8,"y":-14,"v":43},{"x":9,"y":-14,"v":40},{"x":10,"y":-14,"v":37},{"x":11,"y":-14,"v":35},{"x":12,"y":-14,"v":32}
]},
"vconcat":[
{
"data":{"name":"halogen"},
"width":364,"height":326,
"title":{"text":"Halogen Light","font":"Liberation Sans","fontSize":22.5,"fontWeight":"normal","color":"#231F20","anchor":"middle","dx":11,"offset":-21},
"mark":{"type":"rect","stroke":"#141414","strokeWidth":1},
"encoding":{
"x":{"field":"x","type":"quantitative","bin":{"binned":true,"step":1},"scale":{"domain":[-14,13],"nice":false,"zero":false},"axis":null},
"y":{"field":"y","type":"quantitative","bin":{"binned":true,"step":1},"scale":{"domain":[-14,13],"nice":false,"zero":false},"axis":{"values":[-10,-5,0,5,10],"labelExpr":"'' + datum.value","title":null,"ticks":false,"domain":false,"grid":false,"labelFont":"Liberation Sans","labelFontWeight":"bold","labelFontSize":11.5,"labelColor":"#111111","labelPadding":3,"labelFlush":false}},
"color":{"field":"v","type":"quantitative",
"scale":{"type":"threshold","domain":[81,169,230,289,401,487,590,668,745,831,917,1009,1089,1175,1270,1347,1434,1511,1597,1619],"range":["#2E3192","#31449C","#2E5DAA","#306BB5","#3B86C6","#36ACE2","#74CEEC","#9CD8D9","#9AD4BC","#A3D39A","#B6D677","#D6DE5E","#F6EA4A","#FCC62B","#F6A13D","#F26F30","#EF4336","#EC2C38","#E0202B","#B8292F","#A23A3C"]},
"legend":{"type":"gradient","direction":"vertical","orient":"none","legendX":369,"legendY":-23,"values":[0,0.1,81,169,200,230,289,400,401,487,590,600,668,745,800,831,917,1000,1009,1089,1175,1200,1270,1347,1400,1434,1511,1597,1600,1619],"labelExpr":"datum.value == 0.1 ? '0' : (datum.value >= 200 && datum.value % 200 === 0 ? '' + datum.value : '')","title":"Footcandles","titleFont":"Liberation Sans","titleFontWeight":"normal","titleFontSize":16.5,"titleColor":"#231F20","titleAnchor":"middle","titlePadding":7,"gradientLength":326,"gradientThickness":25,"gradientStrokeWidth":0,"labelFont":"Liberation Sans","labelFontWeight":"bold","labelFontSize":11,"labelColor":"#111111","labelOffset":4,"labelOverlap":false}}
}
},
{
"data":{"name":"pax"},
"width":364,"height":328,
"title":{"text":"PAXLight™","font":"Liberation Sans","fontSize":22.5,"fontWeight":"normal","color":"#ED1C24","anchor":"middle","dx":11,"offset":-21},
"mark":{"type":"rect","stroke":"#141414","strokeWidth":1},
"encoding":{
"x":{"field":"x","type":"quantitative","bin":{"binned":true,"step":1},"scale":{"domain":[-14,13],"nice":false,"zero":false},"axis":{"values":[-10,-5,0,5,10],"labelExpr":"'' + datum.value","title":null,"ticks":false,"domain":false,"grid":false,"labelFont":"Liberation Sans","labelFontWeight":"bold","labelFontSize":11.5,"labelColor":"#111111","labelPadding":6,"labelFlush":false}},
"y":{"field":"y","type":"quantitative","bin":{"binned":true,"step":1},"scale":{"domain":[-14,13],"nice":false,"zero":false},"axis":{"values":[-10,-5,0,5,10],"labelExpr":"'' + datum.value","title":null,"ticks":false,"domain":false,"grid":false,"labelFont":"Liberation Sans","labelFontWeight":"bold","labelFontSize":11.5,"labelColor":"#111111","labelPadding":3,"labelFlush":false}},
"color":{"field":"v","type":"quantitative",
"scale":{"type":"threshold","domain":[81,169,230,289,401,487,590,668,745,831,917,1009,1089,1175,1270,1347,1434,1511,1597,1619],"range":["#2E3192","#31449C","#2E5DAA","#306BB5","#3B86C6","#36ACE2","#74CEEC","#9CD8D9","#9AD4BC","#A3D39A","#B6D677","#D6DE5E","#F6EA4A","#FCC62B","#F6A13D","#F26F30","#EF4336","#EC2C38","#E0202B","#B8292F","#A23A3C"]},
"legend":{"type":"gradient","direction":"vertical","orient":"none","legendX":369,"legendY":-23,"values":[0,0.1,81,169,200,230,289,400,401,487,590,600,668,745,800,831,917,1000,1009,1089,1175,1200,1270,1347,1400,1434,1511,1597,1600,1619],"labelExpr":"datum.value == 0.1 ? '0' : (datum.value >= 200 && datum.value % 200 === 0 ? '' + datum.value : '')","title":"Footcandles","titleFont":"Liberation Sans","titleFontWeight":"normal","titleFontSize":16.5,"titleColor":"#231F20","titleAnchor":"middle","titlePadding":7,"gradientLength":328,"gradientThickness":25,"gradientStrokeWidth":0,"labelFont":"Liberation Sans","labelFontWeight":"bold","labelFontSize":11,"labelColor":"#111111","labelOffset":4,"labelOverlap":false}}
}
}
]
}
